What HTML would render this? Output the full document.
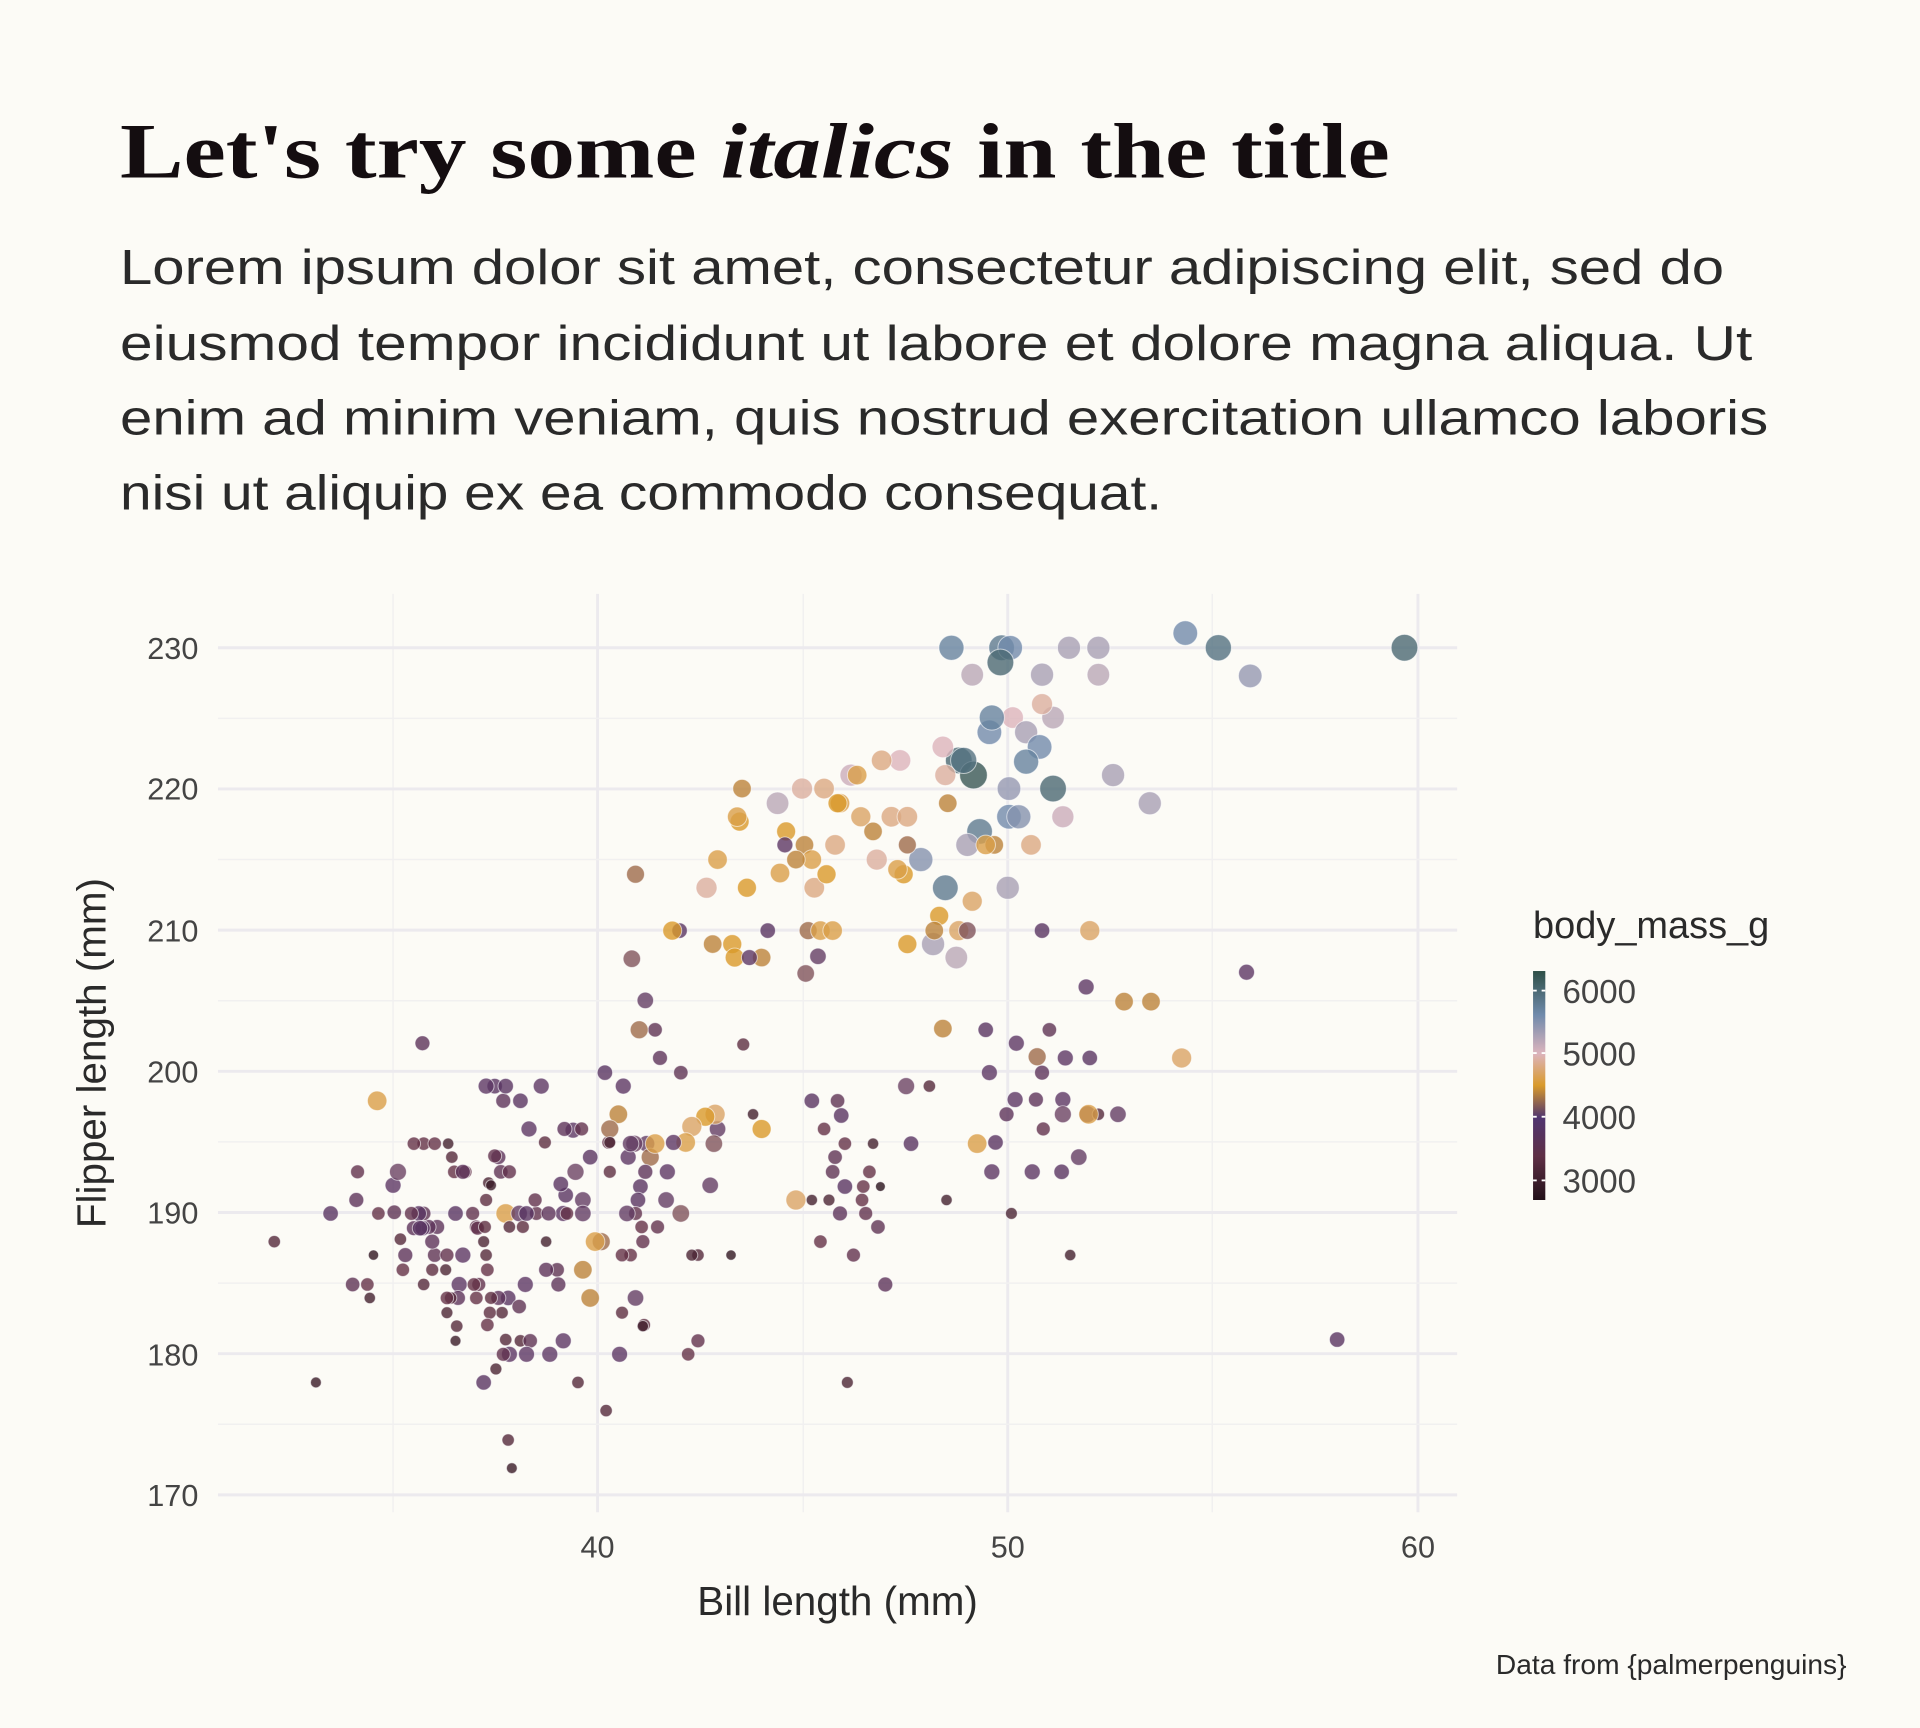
<!DOCTYPE html>
<html><head><meta charset="utf-8"><style>
html,body{margin:0;padding:0;background:#fcfbf6;}
svg{display:block;}
</style></head><body>
<svg id="s" width="1920" height="1728" viewBox="0 0 1568 1411.2" xmlns="http://www.w3.org/2000/svg">
<defs>
<linearGradient id="cb" x1="0" y1="0" x2="0" y2="1">
<stop offset="0" stop-color="#2e4f47"/>
<stop offset="0.19" stop-color="#6f8aab"/>
<stop offset="0.36" stop-color="#dcb4bd"/>
<stop offset="0.5" stop-color="#d99a2b"/>
<stop offset="0.64" stop-color="#503570"/>
<stop offset="0.81" stop-color="#5e2f45"/>
<stop offset="1" stop-color="#221018"/>
</linearGradient>
</defs>
<rect width="1568" height="1412" fill="#fcfbf6"/>
<text x="98" y="145" font-family="Liberation Serif, serif" font-weight="bold" font-size="64" fill="#140d10" textLength="1037" lengthAdjust="spacingAndGlyphs">Let's try some <tspan font-style="italic">italics</tspan> in the title</text>
<g font-family="Liberation Sans, sans-serif" font-size="40" fill="#2a2a2a">
<text x="98" y="232" textLength="1310" lengthAdjust="spacingAndGlyphs">Lorem ipsum dolor sit amet, consectetur adipiscing elit, sed do</text>
<text x="98" y="294" textLength="1333" lengthAdjust="spacingAndGlyphs">eiusmod tempor incididunt ut labore et dolore magna aliqua. Ut</text>
<text x="98" y="355" textLength="1346" lengthAdjust="spacingAndGlyphs">enim ad minim veniam, quis nostrud exercitation ullamco laboris</text>
<text x="98" y="416" textLength="851" lengthAdjust="spacingAndGlyphs">nisi ut aliquip ex ea commodo consequat.</text>
</g>
<g id="grid"></g>
<g id="pts"></g>
<g font-family="Liberation Sans, sans-serif" font-size="25" fill="#444">
<text x="162" y="538" text-anchor="end">230</text>
<text x="162" y="653" text-anchor="end">220</text>
<text x="162" y="769" text-anchor="end">210</text>
<text x="162" y="884" text-anchor="end">200</text>
<text x="162" y="999" text-anchor="end">190</text>
<text x="162" y="1115" text-anchor="end">180</text>
<text x="162" y="1230" text-anchor="end">170</text>
<text x="488" y="1272" text-anchor="middle">40</text>
<text x="823" y="1272" text-anchor="middle">50</text>
<text x="1158" y="1272" text-anchor="middle">60</text>
</g>
<text x="684" y="1319" text-anchor="middle" font-family="Liberation Sans, sans-serif" font-size="33" fill="#2a2a2a">Bill length (mm)</text>
<text transform="translate(86,860) rotate(-90)" text-anchor="middle" font-family="Liberation Sans, sans-serif" font-size="33" fill="#2a2a2a">Flipper length (mm)</text>
<text x="1508" y="1367" text-anchor="end" font-family="Liberation Sans, sans-serif" font-size="23" fill="#2a2a2a">Data from {palmerpenguins}</text>
<text x="1252" y="766" font-family="Liberation Sans, sans-serif" font-size="31" fill="#2a2a2a">body_mass_g</text>
<rect x="1252" y="793" width="10" height="187" fill="url(#cb)"/>
<g stroke="#fff" stroke-width="1.5">
<line x1="1252" y1="809" x2="1255" y2="809"/><line x1="1259" y1="809" x2="1262" y2="809"/>
<line x1="1252" y1="860" x2="1255" y2="860"/><line x1="1259" y1="860" x2="1262" y2="860"/>
<line x1="1252" y1="912" x2="1255" y2="912"/><line x1="1259" y1="912" x2="1262" y2="912"/>
<line x1="1252" y1="964" x2="1255" y2="964"/><line x1="1259" y1="964" x2="1262" y2="964"/>
</g>
<g font-family="Liberation Sans, sans-serif" font-size="27" fill="#444">
<text x="1276" y="819">6000</text>
<text x="1276" y="870">5000</text>
<text x="1276" y="922">4000</text>
<text x="1276" y="974">3000</text>
</g>
</svg>
<script>
var NS="http://www.w3.org/2000/svg";
var g=document.getElementById("grid");
function ln(x1,y1,x2,y2,c,w){var l=document.createElementNS(NS,"line");l.setAttribute("x1",x1);l.setAttribute("y1",y1);l.setAttribute("x2",x2);l.setAttribute("y2",y2);l.setAttribute("stroke",c);l.setAttribute("stroke-width",w);g.appendChild(l);}
[321,656,990].forEach(function(x){ln(x,485,x,1235,"#f1f0f0",1.2)});
[488,823,1158].forEach(function(x){ln(x,485,x,1235,"#eceaee",2.4)});
for(var v=175;v<=225;v+=10){var y=529+(230-v)*11.53;ln(178,y,1190,y,"#f1f0f0",1.2);}
for(var v=170;v<=230;v+=10){var y=529+(230-v)*11.53;ln(178,y,1190,y,"#eceaee",2.4);}
var stops=[[0,[46,79,71]],[0.19,[111,138,171]],[0.36,[220,180,189]],[0.5,[217,154,43]],[0.6,[110,70,100]],[0.68,[88,52,100]],[0.81,[100,50,70]],[1,[40,18,28]]];
function col(m){var f=(6300-m)/3600;f=Math.max(0,Math.min(1,f));for(var i=0;i<stops.length-1;i++){if(f<=stops[i+1][0]){var a=stops[i],b=stops[i+1],t=(f-a[0])/(b[0]-a[0]);return "rgb("+[0,1,2].map(function(k){return Math.round(a[1][k]+(b[1][k]-a[1][k])*t)}).join(",")+")";}}return "rgb(40,18,28)";}
var P=[[777,529,5700],[818,529,5800],[825,529,5600],[817,541,6000],[794,551,5200],[873,529,5300],[897,529,5300],[897,551,5200],[851,551,5300],[968,517,5600],[995,529,5900],[1021,552,5400],[1147,529,6000],[860,586,5200],[851,575,4900],[827,586,5000],[808,598,5600],[810,586,5700],[838,598,5300],[849,610,5600],[838,622,5700],[860,644,6000],[909,633,5300],[939,656,5300],[868,667,5100],[824,667,5600],[832,667,5500],[824,644,5400],[783,621,6000],[795,633,6200],[787,621,5900],[800,679,5800],[790,690,5300],[823,725,5300],[772,725,5800],[752,702,5500],[762,771,5300],[781,782,5200],[770,610,5000],[772,633,4900],[735,621,5000],[695,633,5100],[635,656,5200],[728,667,4800],[716,702,4900],[720,621,4800],[700,633,4600],[686,656,4600],[682,690,4800],[657,690,4400],[642,679,4500],[637,713,4600],[663,702,4600],[650,702,4400],[665,725,4800],[675,714,4500],[660,760,4300],[670,760,4600],[680,760,4600],[668,781,4000],[658,795,4200],[641,690,3900],[627,760,3800],[598,771,4500],[600,782,4500],[622,782,4400],[612,782,3900],[555,760,3800],[549,760,4500],[582,771,4400],[586,702,4600],[577,725,4900],[610,725,4500],[604,671,4500],[606,644,4400],[602,667,4600],[655,644,4900],[673,644,4800],[684,656,4500],[703,667,4700],[713,679,4400],[741,667,4800],[741,690,4300],[738,714,4500],[733,710,4600],[774,656,4400],[767,748,4500],[741,771,4500],[763,760,4400],[783,760,4700],[790,760,4200],[794,736,4700],[812,690,4400],[805,690,4600],[842,690,4800],[851,760,3800],[890,760,4700],[887,806,3900],[918,818,4400],[940,818,4400],[1018,794,3900],[965,864,4700],[770,840,4400],[857,841,3600],[847,863,4300],[890,864,3800],[805,841,3800],[830,852,3900],[808,876,3900],[851,876,3700],[870,864,3900],[888,910,4100],[913,910,4000],[897,910,3200],[889,910,4600],[868,898,3900],[868,910,4100],[846,898,3700],[829,898,3900],[822,910,3700],[852,922,3500],[813,933,3800],[798,934,4600],[881,945,4000],[810,957,3900],[843,957,3900],[867,957,3800],[773,980,3000],[826,991,3100],[874,1025,3000],[1092,1094,3800],[744,934,3800],[740,887,4100],[759,887,3200],[723,1049,3700],[717,1002,3600],[704,980,3400],[707,991,3500],[686,991,3700],[697,1025,3500],[670,1014,3400],[663,980,3000],[677,980,3100],[663,899,3800],[673,922,3400],[687,911,3800],[684,899,3600],[690,934,3400],[682,945,3600],[680,957,3600],[690,969,3800],[705,969,3400],[713,934,3000],[710,957,3400],[719,969,2700],[692,1129,3100],[650,980,4700],[622,922,4500],[607,853,3300],[615,910,3000],[570,1025,3200],[597,1025,2800],[565,1025,3100],[570,1095,3500],[562,1106,3400],[537,1002,3500],[580,968,4000],[586,922,4000],[583,934,4200],[584,910,4700],[576,912,4500],[565,920,4700],[560,933,4600],[550,933,3900],[545,957,3900],[544,980,4000],[556,991,4200],[556,876,3600],[539,864,3700],[535,841,3600],[527,817,4000],[522,841,4300],[516,783,4200],[519,714,4300],[528,934,4000],[531,945,4300],[535,934,4600],[518,934,4100],[513,945,3900],[527,957,3700],[523,969,3800],[521,980,3800],[519,991,3500],[524,1002,3400],[525,1014,3500],[515,1025,3400],[508,1025,3400],[512,991,4000],[515,934,4000],[509,887,3900],[494,876,3800],[505,910,4400],[497,933,3400],[482,945,3800],[476,980,4000],[476,991,4000],[470,957,4100],[468,923,3900],[475,922,3500],[491,1014,4300],[486,1014,4600],[498,922,4300],[498,957,3300],[498,933,3100],[482,1060,4400],[476,1037,4400],[519,1060,4000],[508,1072,3300],[526,1082,3300],[525,1083,3000],[506,1106,3900],[495,1152,3200],[472,1129,3200],[460,1095,3900],[449,1106,3900],[455,1037,3600],[456,1049,3700],[460,991,3900],[462,976,3800],[458,967,3800],[463,991,3400],[445,933,3300],[442,887,3900],[461,922,3700],[432,922,3900],[413,991,4600],[416,1002,3200],[424,991,4000],[427,1002,3300],[438,991,3500],[437,980,3500],[430,991,3800],[448,991,3700],[446,1014,3000],[446,1037,3700],[429,1049,3900],[415,1060,3800],[425,1095,3200],[416,1106,3900],[411,1106,3500],[395,1129,3800],[415,1176,3200],[418,1199,2900],[405,1118,3100],[413,1094,3200],[410,1072,3200],[407,1060,3700],[401,1060,3300],[389,1060,3400],[391,1049,3500],[375,1049,3900],[374,1060,3700],[368,1060,3200],[373,1083,3200],[372,1095,2900],[365,1060,3400],[378,1025,3900],[355,1025,3600],[357,1002,3700],[372,991,3800],[386,991,3500],[389,1002,3500],[395,1014,3100],[397,1025,3200],[398,1037,3400],[387,1049,3400],[371,957,3400],[380,957,3400],[378,957,3700],[407,945,3700],[409,957,3600],[416,957,3500],[404,887,3800],[397,887,3900],[411,899,3700],[413,887,3800],[425,899,3800],[399,966,3100],[401,968,2900],[390,1003,3500],[353,1014,3700],[350,1002,3700],[346,991,3600],[342,991,3800],[336,991,3500],[338,1003,3700],[331,1025,3700],[329,1037,3400],[353,1037,3300],[346,1049,3200],[327,1012,3200],[322,990,3600],[321,968,3900],[325,957,4100],[345,852,3700],[346,934,3400],[338,934,3400],[355,934,3400],[366,934,3000],[369,945,3200],[308,899,4600],[292,957,3500],[291,980,3700],[309,991,3400],[300,1049,3400],[288,1049,3600],[270,991,3800],[305,1025,2800],[302,1060,3000],[258,1129,2900],[224,1014,3200],[345,1003,3800],[397,980,3300],[400,1072,3300],[404,944,3500],[433,1095,3600],[430,1106,3900],[396,1002,3300],[343,1003,3800],[365,1025,3500],[364,1037,3100],[365,1072,3100],[398,1082,3400],[424,1067,3600]];
var pg=document.getElementById("pts");
P.forEach(function(p){var c=document.createElementNS(NS,"circle");c.setAttribute("cx",p[0]);c.setAttribute("cy",p[1]);c.setAttribute("r",(4+(p[2]-2700)/3600*7.5).toFixed(2));c.setAttribute("fill",col(p[2]));c.setAttribute("fill-opacity","0.8");c.setAttribute("stroke","#fff");c.setAttribute("stroke-opacity","0.6");c.setAttribute("stroke-width","0.8");pg.appendChild(c);});
</script>
</body></html>
